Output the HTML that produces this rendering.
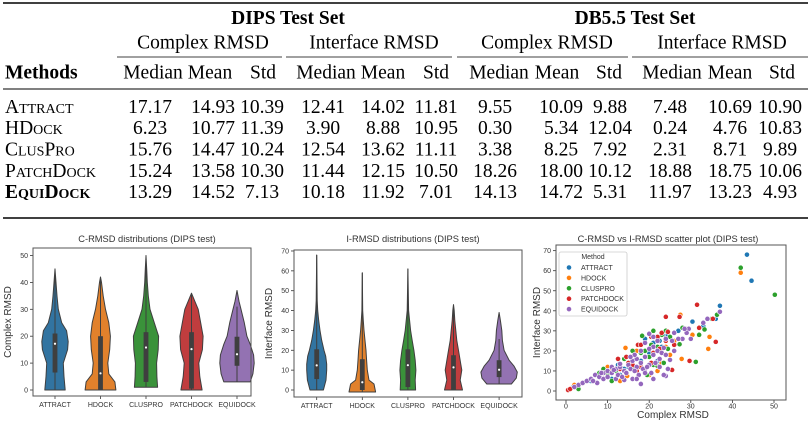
<!DOCTYPE html>
<html><head><meta charset="utf-8"><style>
html,body{margin:0;padding:0;background:#fff;}
svg{display:block;}
.tb{font-family:"Liberation Serif",serif;font-size:19.5px;fill:#000;}
.sc{font-variant:small-caps;}
.ax{font-family:"Liberation Sans",sans-serif;fill:#333;}
</style></head><body>
<svg id="root" width="812" height="425" viewBox="0 0 812 425" xmlns="http://www.w3.org/2000/svg">
<g id="table"></g>
<g id="c1"></g>
<g id="c2"></g>
<g id="c3"></g>
</svg>
<script>
const NS="http://www.w3.org/2000/svg";
function mk(p,tag,a,txt){const e=document.createElementNS(NS,tag);for(const k in a)e.setAttribute(k,a[k]);if(txt!==undefined)e.textContent=txt;p.appendChild(e);return e;}

// ---------- TABLE ----------
const methods=["Attract","HDock","ClusPro","PatchDock","EquiDock"];
const tableRows=[
["17.17","14.93","10.39","12.41","14.02","11.81","9.55","10.09","9.88","7.48","10.69","10.90"],
["6.23","10.77","11.39","3.90","8.88","10.95","0.30","5.34","12.04","0.24","4.76","10.83"],
["15.76","14.47","10.24","12.54","13.62","11.11","3.38","8.25","7.92","2.31","8.71","9.89"],
["15.24","13.58","10.30","11.44","12.15","10.50","18.26","18.00","10.12","18.88","18.75","10.06"],
["13.29","14.52","7.13","10.18","11.92","7.01","14.13","14.72","5.31","11.97","13.23","4.93"]];
const subHeads=["Median","Mean","Std","Median","Mean","Std","Median","Mean","Std","Median","Mean","Std"];
const T=document.getElementById('table');
const colX=[150,213,262,323,383,436,495,561,610,670,730,780];
const headX=[153,210,263,326,383,436,499,557,609,672,730,782];
const rowY=[113,134,155.5,177,198];
mk(T,'line',{x1:3,x2:808,y1:3,y2:3,stroke:'#000','stroke-width':1.6,});
mk(T,'line',{x1:3,x2:808,y1:89,y2:89,stroke:'#000','stroke-width':0.9,});
mk(T,'line',{x1:3,x2:808,y1:218,y2:218,stroke:'#000','stroke-width':1.6,});
[[117,282],[286,452],[457,628],[632,808]].forEach(s=>{
  const l=mk(T,'line',{x1:s[0],x2:s[1],y1:57,y2:57,stroke:'#000','stroke-width':0.8});
  
  
});
let t=mk(T,'text',{x:288,y:24,'text-anchor':'middle',class:'tb','font-weight':'bold',},'DIPS Test Set');
t=mk(T,'text',{x:635,y:24,'text-anchor':'middle',class:'tb','font-weight':'bold',},'DB5.5 Test Set');
[[203,'Complex RMSD'],[374,'Interface RMSD'],[547,'Complex RMSD'],[722,'Interface RMSD']].forEach(h=>{
  const e=mk(T,'text',{x:h[0],y:48.5,'text-anchor':'middle',class:'tb'},h[1]);
  
  
});
mk(T,'text',{x:5,y:78.5,class:'tb','font-weight':'bold',},'Methods');
subHeads.forEach((h,i)=>{
  const e=mk(T,'text',{x:headX[i],y:78.5,'text-anchor':'middle',class:'tb'},h);
  
  
});
methods.forEach((m,r)=>{
  const e=mk(T,'text',{x:5,y:rowY[r],class:'tb sc'},m);
  if(r===4)e.setAttribute('font-weight','bold');
  
  
  tableRows[r].forEach((v,c)=>{
    const d=mk(T,'text',{x:colX[c],y:rowY[r],'text-anchor':'middle',class:'tb'},v);
    
    
  });
});

// ---------- VIOLIN DATA ----------
const violinCats=["ATTRACT","HDOCK","CLUSPRO","PATCHDOCK","EQUIDOCK"];
const violinColors=["#3274a1","#e1812c","#3a923a","#c03d3e","#9372b2"];
const crmsdProfiles=[
[[0,10.3],[5,9],[10,8.3],[15,12.7],[18,13.3],[22,11.7],[25,6.7],[30,3.3],[35,2],[40,1],[45,0]],
[[0,15.5],[3,14.5],[6,8.3],[10,7.3],[15,9.3],[20,10],[25,8.3],[30,5],[35,2.7],[40,1],[42,0]],
[[1,11.7],[5,11],[10,10.7],[15,12.3],[20,12.7],[25,8.3],[30,4],[35,2.3],[40,1.3],[45,0.7],[50,0]],
[[0,10.7],[5,8.3],[10,7.3],[15,11],[20,11.7],[25,9.3],[30,6.7],[33,3.3],[36,0]],
[[3,13.3],[6,16],[10,17.3],[13,16.7],[17,13.3],[20,10],[25,7.3],[30,4],[33,2],[37,0]]];
const crmsdBox=[[0,6.5,17.2,21,45],[0,0,6.2,20,42],[1,3,15.8,21.5,50],[0,0.5,15.2,21.5,36],[3,9,13.3,19.8,31]];
const irmsdProfiles=[
[[0,6.7],[5,9.3],[10,10],[13,10],[17,9],[20,7.3],[25,5],[30,3.3],[35,2],[40,1],[45,0.5],[68,0]],
[[-1,13.3],[3,11.7],[5,6.7],[10,5],[15,4.3],[20,3.7],[25,2.7],[30,1.7],[35,1],[40,0.4],[59,0]],
[[0,7.7],[5,7.3],[10,8],[15,7.3],[20,6],[25,4.3],[30,2.7],[35,1.7],[40,0.7],[61,0]],
[[0,9],[5,6.7],[10,8.3],[13,7.3],[20,5],[25,3.3],[30,2.3],[35,1.3],[40,0.7],[43,0]],
[[3,12.3],[6,17.3],[9,18.3],[12,15],[15,10],[20,5],[25,3.3],[30,2.7],[35,1.3],[39,0]]];
const irmsdBox=[[0,5.5,12.4,20.5,68],[-1,0,3.9,15.5,59],[0,1.5,12.5,20.5,61],[0,0,11.4,17.5,43],[3,6.5,10.2,15,25.7]];
const crmsdTicks=[0,10,20,30,40,50];
const irmsdTicks=[0,10,20,30,40,50,60,70];

function violinChart(g,cfg){
  const {x0,x1,y0,y1,ypx0,ypu,cx0,band,ticks,title,ylabel,profiles,boxes,titleX}=cfg;
  const Y=v=>ypx0-v*ypu;
  const X=i=>cx0+i*band;
  const sc=(band*0.4)/18.3;
  mk(g,'text',{x:titleX,y:242,'text-anchor':'middle',class:'ax','font-size':9.3,fill:'#111',},title);
  mk(g,'text',{x:0,y:0,transform:`translate(${x0-22},${(y0+y1)/2}) rotate(-90)`,'text-anchor':'middle',class:'ax','font-size':10,fill:'#111',},ylabel);
  profiles.forEach((p,i)=>{
    const cx=X(i);
    let right=p.map(q=>[cx+q[1]*sc,Y(q[0])]);
    let left=p.slice().reverse().map(q=>[cx-q[1]*sc,Y(q[0])]);
    const pts=right.concat(left).map(q=>q[0].toFixed(1)+','+q[1].toFixed(1)).join(' ');
    const v=mk(g,'polygon',{points:pts,fill:violinColors[i],stroke:'#3f3f3f','stroke-width':1,'stroke-linejoin':'round'});
    
    
    const b=boxes[i];
    const w=mk(g,'line',{x1:cx,x2:cx,y1:Y(b[0]),y2:Y(b[4]),stroke:'#3f3f3f','stroke-width':1});
    
    
    const bx=mk(g,'rect',{x:cx-2.4,y:Y(b[3]),width:4.8,height:Math.max(0.5,Y(b[1])-Y(b[3])),fill:'#3f3f3f'});
    
    
    const md=mk(g,'circle',{cx:cx,cy:Y(b[2]),r:1.1,fill:'#fff'});
    
    
    const tk=mk(g,'line',{x1:cx,x2:cx,y1:y1,y2:y1+3,stroke:'#333','stroke-width':0.8});
    
    
    const lb=mk(g,'text',{x:cx,y:y1+11,'text-anchor':'middle',class:'ax','font-size':7},violinCats[i]);
    
    
  });
  ticks.forEach(v=>{
    const tk=mk(g,'line',{x1:x0-3,x2:x0,y1:Y(v),y2:Y(v),stroke:'#333','stroke-width':0.8});
    
    
    const lb=mk(g,'text',{x:x0-5,y:Y(v)+2.5,'text-anchor':'end',class:'ax','font-size':7},String(v));
    
    
  });
  mk(g,'rect',{x:x0,y:y0,width:x1-x0,height:y1-y0,fill:'none',stroke:'#555','stroke-width':1,});
}
violinChart(document.getElementById('c1'),{x0:33,x1:251,y0:248,y1:396,ypx0:390,ypu:2.69,cx0:55,band:45.5,ticks:crmsdTicks,title:'C-RMSD distributions (DIPS test)',ylabel:'Complex RMSD',profiles:crmsdProfiles,boxes:crmsdBox,titleX:147});
violinChart(document.getElementById('c2'),{x0:294,x1:522,y0:250,y1:397,ypx0:390,ypu:1.986,cx0:316.7,band:45.6,ticks:irmsdTicks,title:'I-RMSD distributions (DIPS test)',ylabel:'Interface RMSD',profiles:irmsdProfiles,boxes:irmsdBox,titleX:413});

// ---------- SCATTER DATA ----------
const scatterSeries=["ATTRACT","HDOCK","CLUSPRO","PATCHDOCK","EQUIDOCK"];
const scatterColors=["#1f77b4","#ff7f0e","#2ca02c","#d62728","#9467bd"];
const attractPts=[[43.5,68],[44.6,55],[37,42.5],[36,36],[33,32.4],[30.4,34.6],[29.6,31],[25.6,25],[24,27.5],[23,22],[20,19],[20.5,22.5],[22,15],[17,10],[15,12],[13,8],[10,9],[8,7],[3,3],[1.8,2.5],[24.5,28],[18,15],[21,24],[12.5,13],[27,30],[19,26],[16,20],[11,6],[6,5],[32,28],[26,24],[22.5,25],[14,11]];
const hdockPts=[[42,59],[34.5,27],[34.2,21],[30.4,28],[27.5,38],[27.8,16],[29.7,15],[14.3,21.5],[14.7,7.5],[18,12],[20,8],[21,13],[23,14],[12,10],[10,12],[4,4],[2,3],[17,20],[25,18],[16,15],[0.5,0.3],[13,5],[19,17],[22,10],[26,25],[8,7],[11,11],[24,22]];
const clusproPts=[[42,61.5],[50.2,48],[36.3,38],[35,36],[33.3,30.7],[32,28],[31.2,14.5],[28,31.5],[27.3,23.3],[21,30],[18.3,27.5],[23,28],[24,30],[11,5],[2.5,2],[3,1],[8,9],[12,10],[15,14],[16,20],[18,19],[20,17],[21,13],[22,12.5],[23.5,14],[19.5,8],[17,16],[9,11],[24.5,21],[20.5,23],[6,6],[14,16],[19,20],[22,22],[25,27],[13,13],[10,8],[16,12]];
const patchdockPts=[[31.5,43],[24,37],[27.3,37],[35.3,36],[32,31.5],[36,24.5],[28.8,31],[24.5,29.5],[20.5,27],[22,27],[17.3,23],[18,23],[24,25],[25.5,10.5],[29.7,15],[14.5,17],[12.5,16],[19,17],[16,13],[21,19],[22.5,21],[17,10],[13,11],[0.5,0.5],[1,1],[10,10],[20.5,14],[26,23],[15,14],[23,29],[18,12]];
const equidockPts=[[37,39.5],[34,36],[29.5,31],[28,26],[25.5,25],[24,26],[22,25],[21,22],[20,28.5],[18,3.5],[24,7.5],[21,6],[16,6],[12,6],[14,5.5],[7.5,4],[3,3],[4,4],[5,5],[6,6],[7,8],[8,7],[9,9],[10,10],[11,9],[12,11],[13,12],[14,10],[15,13],[16,15],[17,12],[17,16],[18,14],[19,17],[19,11],[20,13],[21,18],[22,20],[22.5,16],[23,19],[23.5,21.5],[24,18],[25,15.5],[26,20],[27,26],[29,29],[30,26],[9,6],[10,7],[11,12],[12.5,8],[13.5,7],[14.5,9],[15.5,11],[16.5,10],[17.5,8],[18.5,11],[19.5,12],[20.5,9],[21.5,14],[22.5,12],[23.5,8],[24.5,11],[20,21],[19,24],[18,20],[16.5,18],[15.5,17],[2,2],[6.5,5],[8.5,9],[11.5,10.5],[13,13.5],[28.5,31],[33,34],[26,29],[21,27],[17,6],[19,9]];
const scatterPts=[attractPts,hdockPts,clusproPts,patchdockPts,equidockPts];
const scX=[0,10,20,30,40,50];
const scY=[0,10,20,30,40,50,60,70];
(function(){
  const g=document.getElementById('c3');
  const x0=556,x1=786,y0=245,y1=400;
  const X=v=>566+v*4.16, Y=v=>391-v*2.005;
  mk(g,'text',{x:668,y:242,'text-anchor':'middle',class:'ax','font-size':9.3,fill:'#111',},'C-RMSD vs I-RMSD scatter plot (DIPS test)');
  mk(g,'text',{x:673,y:418,'text-anchor':'middle',class:'ax','font-size':10,fill:'#111',},'Complex RMSD');
  mk(g,'text',{x:0,y:0,transform:`translate(540,${(y0+y1)/2}) rotate(-90)`,'text-anchor':'middle',class:'ax','font-size':10,fill:'#111',},'Interface RMSD');
  scX.forEach(v=>{
    const tk=mk(g,'line',{x1:X(v),x2:X(v),y1:y1,y2:y1+3,stroke:'#333','stroke-width':0.8});
    
    
    const lb=mk(g,'text',{x:X(v),y:y1+8.5,'text-anchor':'middle',class:'ax','font-size':7},String(v));
    
    
  });
  scY.forEach(v=>{
    const tk=mk(g,'line',{x1:x0-3,x2:x0,y1:Y(v),y2:Y(v),stroke:'#333','stroke-width':0.8});
    
    
    const lb=mk(g,'text',{x:x0-5,y:Y(v)+2.5,'text-anchor':'end',class:'ax','font-size':7},String(v));
    
    
  });
  scatterPts.forEach((pts,s)=>{
    pts.forEach(p=>{
      const c=mk(g,'circle',{cx:X(p[0]),cy:Y(p[1]),r:2.6,fill:scatterColors[s],stroke:'#fff','stroke-width':0.6});
      
      
    });
  });
  mk(g,'rect',{x:x0,y:y0,width:x1-x0,height:y1-y0,fill:'none',stroke:'#555','stroke-width':1,});
  const L=mk(g,'g',{});
  mk(L,'rect',{x:559,y:252,width:68,height:64,rx:2,fill:'#fff','fill-opacity':0.85,stroke:'#ccc','stroke-width':0.8,});
  mk(L,'text',{x:593,y:259,'text-anchor':'middle',class:'ax','font-size':7,},'Method');
  scatterSeries.forEach((n,i)=>{
    const yy=267.5+i*10.4;
    const c=mk(L,'circle',{cx:569,cy:yy,r:2.6,fill:scatterColors[i],stroke:'#fff','stroke-width':0.6});
    
    
    const tx=mk(L,'text',{x:581,y:yy+2.5,class:'ax','font-size':7},n);
    
    
  });
})();
</script>
</body></html>
